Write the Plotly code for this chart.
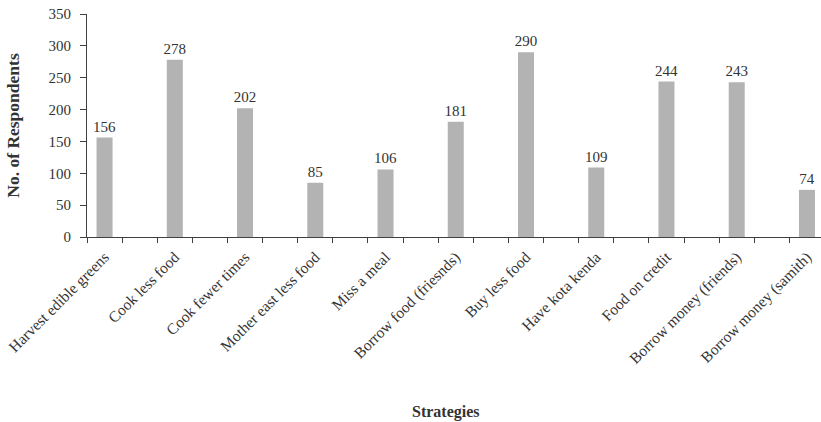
import plotly.graph_objects as go

strategies = [
    "Harvest edible greens",
    "Cook less food",
    "Cook fewer times",
    "Mother east less food",
    "Miss a meal",
    "Borrow food (friesnds)",
    "Buy less food",
    "Have kota kenda",
    "Food on credit",
    "Borrow money (friends)",
    "Borrow money (samith)",
]
respondents = [156, 278, 202, 85, 106, 181, 290, 109, 244, 243, 74]
y_ticks = [0, 50, 100, 150, 200, 250, 300, 350]

# Each strategy is followed by an empty slot on the category axis
categories, values, labels = [], [], []
for i, (name, count) in enumerate(zip(strategies, respondents)):
    categories += [name, " " * (i + 1)]
    values += [count, None]
    labels += [str(count), ""]

FONT = "Liberation Serif"
TEXT = "#333333"
AXIS = "#404040"

fig = go.Figure(
    go.Bar(
        x=categories,
        y=values,
        text=labels,
        textposition="outside",
        constraintext="none",
        textfont=dict(family=FONT, size=15, color=TEXT),
        marker=dict(color="#b3b3b3", line=dict(width=0)),
        cliponaxis=False,
        hoverinfo="skip",
    )
)

fig.update_layout(
    width=821,
    height=422,
    margin=dict(l=87, r=0, t=14, b=185),
    paper_bgcolor="white",
    plot_bgcolor="white",
    bargap=0.544,
    showlegend=False,
    font=dict(family=FONT, size=15, color=TEXT),
    uniformtext=dict(mode=False),
)

fig.update_xaxes(
    type="category",
    categoryorder="array",
    categoryarray=categories,
    range=[-0.5, 20.4],
    tickson="boundaries",
    ticks="outside",
    ticklen=5,
    tickcolor=AXIS,
    tickangle=-45,
    ticklabelstandoff=4,
    tickfont=dict(family=FONT, size=15.5, color=TEXT),
    showline=True,
    linecolor=AXIS,
    linewidth=1,
    showgrid=False,
    zeroline=False,
)

fig.update_yaxes(
    range=[0, 350],
    tickvals=y_ticks,
    ticks="outside",
    ticklen=6,
    tickcolor=AXIS,
    ticklabelstandoff=6,
    tickfont=dict(family=FONT, size=15, color=TEXT),
    showline=True,
    linecolor=AXIS,
    linewidth=1,
    showgrid=False,
    zeroline=False,
    title=dict(
        text="<b>No. of Respondents</b>",
        font=dict(family=FONT, size=17.5, color=TEXT),
        standoff=24,
    ),
)

fig.add_annotation(
    text="<b>Strategies</b>",
    xref="paper",
    yref="paper",
    x=(446 - 87) / 734,
    y=(237 - 412) / 223,
    xanchor="center",
    yanchor="middle",
    showarrow=False,
    font=dict(family=FONT, size=16, color=TEXT),
)

fig.write_html("out.html")
